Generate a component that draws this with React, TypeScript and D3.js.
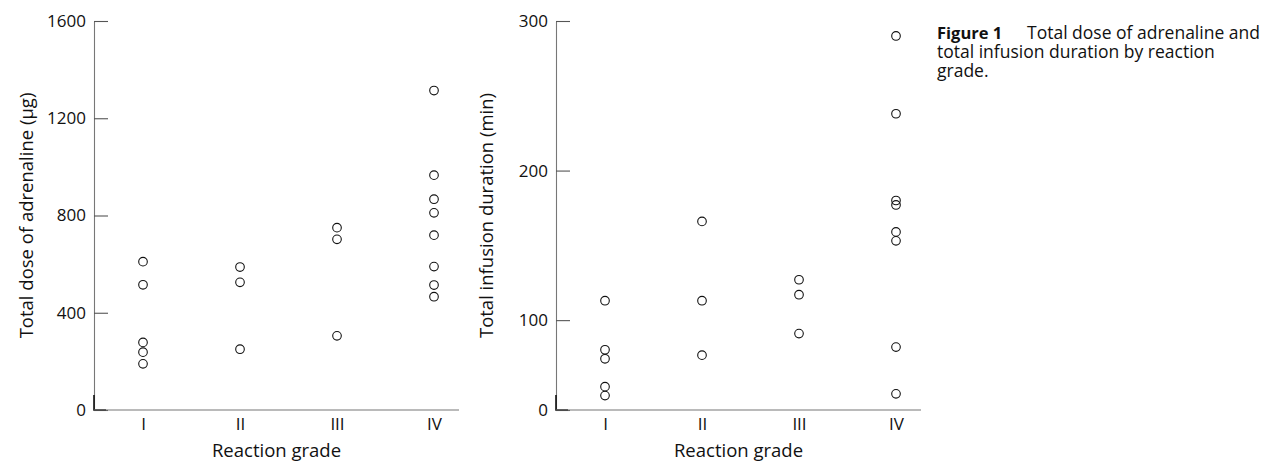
import * as d3 from 'd3';
import React, { Component } from 'react';

const grades = ['I', 'II', 'III', 'IV'];

// Total dose of adrenaline (µg), one list per reaction grade
const doseGradeI = [610, 515, 278, 238, 190];
const doseGradeII = [588, 525, 250];
const doseGradeIII = [750, 702, 305];
const doseGradeIV = [1314, 966, 867, 811, 719, 590, 514, 466];
const doseTicks = [0, 400, 800, 1200, 1600];

// Total infusion duration (min); the 0-100 stretch of the axis is squeezed in the original
const durationGradeI = [113, 67, 57, 26, 16];
const durationGradeII = [166, 113, 61];
const durationGradeIII = [127, 117, 85];
const durationGradeIV = [290, 238, 180, 177, 159, 153, 70, 18];
const durationTicks = [0, 100, 200, 300];

const captionBold = 'Figure 1';
const captionLines = ['Total dose of adrenaline and', 'total infusion duration by reaction', 'grade.'];

const FONT = "'Open Sans', sans-serif";

class App extends Component {
    svgRef: any;
    width = 1269; // ViewBox Width
    height = 463; // ViewBox Height
    top = 21;
    bottom = 410;

    constructor(props: any) {
        super(props);
        this.svgRef = React.createRef();
    }

    componentDidMount() {
        this.draw();
    }

    drawPanel(svg: any, left: number, y: any, ticks: number[], series: number[][], title: string, titleX: number) {
        var bottom = this.bottom;
        var top = this.top;
        var right = left + 365;

        var x = d3.scalePoint().domain(grades).range([left + 49, left + 340]);
        var g = svg.append('g');

        // y axis, ticks pointing inwards
        var yAxis = g.append('g')
            .attr('transform', 'translate(' + left + ',0)')
            .call(d3.axisLeft(y).tickValues(ticks).tickFormat(d3.format('d')).tickSizeInner(-14).tickSizeOuter(0).tickPadding(8));
        yAxis.attr('font-family', FONT).attr('font-size', 17);
        yAxis.select('.domain').attr('stroke', '#777').attr('stroke-width', 1.1);
        yAxis.selectAll('.tick line').attr('stroke', '#555').attr('stroke-width', 1.1);
        yAxis.selectAll('.tick text').attr('fill', '#111');

        // darker stub at the bottom of the axis + zero tick
        g.append('path')
            .attr('d', 'M' + left + ',' + (y(0) - 15) + 'V' + y(0) + 'H' + (left + 12))
            .attr('fill', 'none')
            .attr('stroke', '#111')
            .attr('stroke-width', 1.6);

        // x axis line
        g.append('line')
            .attr('x1', left).attr('x2', right)
            .attr('y1', bottom).attr('y2', bottom)
            .attr('stroke', '#777')
            .attr('stroke-width', 1.1);

        var xAxis = g.append('g')
            .attr('transform', 'translate(0,' + bottom + ')')
            .call(d3.axisBottom(x).tickSize(0).tickPadding(8));
        xAxis.select('.domain').remove();
        xAxis.attr('font-family', FONT).attr('font-size', 17);
        xAxis.selectAll('.tick text').attr('fill', '#111');

        // titles
        g.append('text')
            .attr('x', (left + right) / 2)
            .attr('y', 457)
            .attr('text-anchor', 'middle')
            .attr('font-family', FONT)
            .attr('font-size', 18.5)
            .attr('fill', '#111')
            .text('Reaction grade');

        g.append('text')
            .attr('transform', 'translate(' + titleX + ',' + (top + bottom) / 2 + ') rotate(-90)')
            .attr('text-anchor', 'middle')
            .attr('font-family', FONT)
            .attr('font-size', 18.5)
            .attr('fill', '#111')
            .text(title);

        // the points
        var points = grades.map(function(gr, i) {
            return series[i].map(function(v) { return { grade: gr, value: v }; });
        }).flat();

        g.append('g')
            .selectAll('circle')
            .data(points)
            .enter()
            .append('circle')
            .attr('cx', function(d: any) { return x(d.grade); })
            .attr('cy', function(d: any) { return y(d.value); })
            .attr('r', 4.3)
            .attr('fill', 'none')
            .attr('stroke', '#111')
            .attr('stroke-width', 1.1);
    }

    draw() {
        var svg = d3.select(this.svgRef.current);
        var bottom = this.bottom;
        var top = this.top;

        var yDose = d3.scaleLinear().domain([0, 1600]).range([bottom, top]);
        // piecewise scale: 0-100 takes less room than 100-200
        var yDuration = d3.scaleLinear()
            .domain([0, 100, 300])
            .range([bottom, bottom - 0.231 * (bottom - top), top]);

        this.drawPanel(svg, 94, yDose, doseTicks,
            [doseGradeI, doseGradeII, doseGradeIII, doseGradeIV],
            'Total dose of adrenaline (µg)', 33);
        this.drawPanel(svg, 556, yDuration, durationTicks,
            [durationGradeI, durationGradeII, durationGradeIII, durationGradeIV],
            'Total infusion duration (min)', 493);

        // Create caption
        var cap = svg.append('text')
            .attr('font-family', FONT)
            .attr('font-size', 17.5)
            .attr('fill', '#111');
        cap.append('tspan')
            .attr('x', 937).attr('y', 39)
            .attr('font-weight', 'bold')
            .attr('font-size', 16.5)
            .text(captionBold);
        cap.append('tspan')
            .attr('x', 1027).attr('y', 39)
            .text(captionLines[0]);
        cap.selectAll('tspan.line')
            .data(captionLines.slice(1))
            .enter()
            .append('tspan')
            .attr('class', 'line')
            .attr('x', 937)
            .attr('y', function(d: string, i: number) { return 39 + (i + 1) * 19; })
            .text(function(d: string) { return d; });
    }

    render() {
        return (
            <svg ref={this.svgRef} width={this.width} height={this.height}
                style={{ position: 'absolute', left: 0, top: 0, background: '#fff' }} />
        );
    }
}

export default App;
